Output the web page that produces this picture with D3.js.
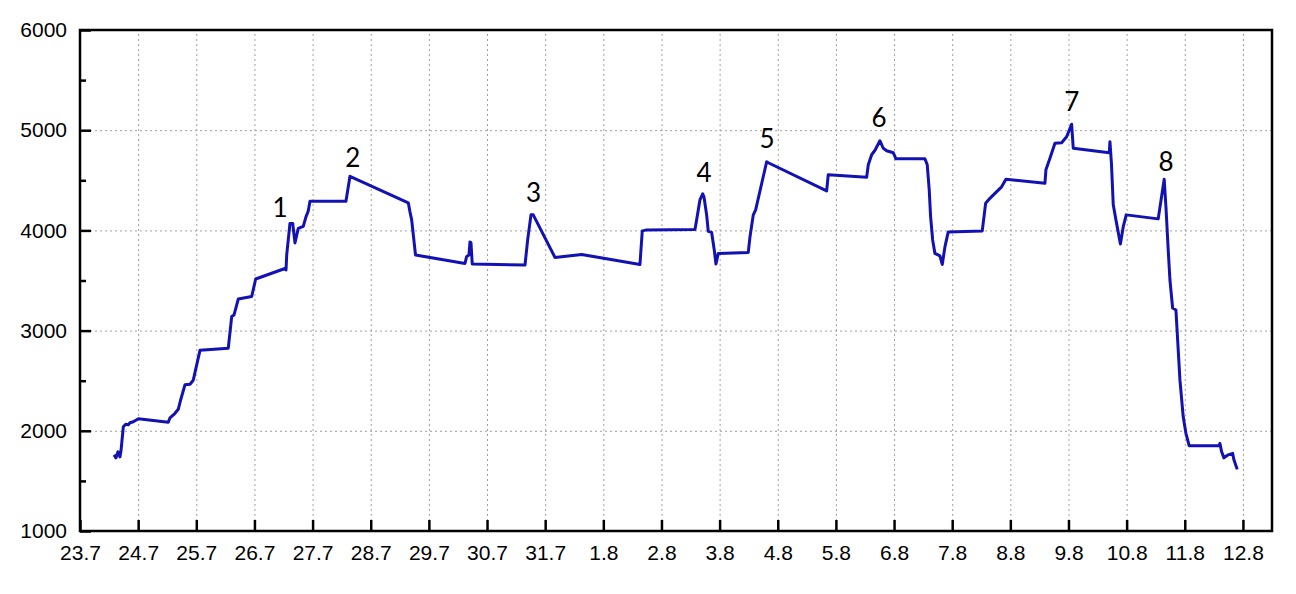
<!DOCTYPE html>
<html>
<head>
<meta charset="utf-8">
<script src="https://cdn.jsdelivr.net/npm/d3@7"></script>
<style>
  html, body { margin: 0; padding: 0; background: #fff; }
  svg { display: block; }
</style>
</head>
<body>
<svg id="chart" width="1296" height="594"></svg>
<script>
// Day offsets from 23.7 (00:00)
const days = [
  0.585, 0.619, 0.653, 0.688, 0.705, 0.745, 0.786, 0.831, 0.860, 0.917,
  0.975, 1.003, 1.518, 1.548, 1.634, 1.690, 1.732, 1.806, 1.892, 1.948,
  2.064, 2.550, 2.609, 2.648, 2.722, 2.953, 3.021, 3.525, 3.543, 3.555,
  3.611, 3.658, 3.697, 3.754, 3.840, 3.886, 3.926, 3.955, 4.574, 4.643,
  5.646, 5.675, 5.704, 5.770, 6.621, 6.650, 6.690, 6.707, 6.724, 6.746,
  7.653, 7.699, 7.756, 7.795, 8.169, 8.628, 9.630, 9.670, 9.746, 10.576,
  10.605, 10.662, 10.709, 10.731, 10.777, 10.805, 10.863, 10.908, 10.937, 10.977,
  11.493, 11.522, 11.579, 11.620, 11.809, 11.837, 12.841, 12.868, 13.529, 13.557,
  13.615, 13.672, 13.757, 13.814, 13.873, 13.986, 14.033, 14.531, 14.571, 14.605,
  14.629, 14.664, 14.703, 14.789, 14.829, 14.875, 14.932, 15.517, 15.575, 15.649,
  15.735, 15.850, 15.924, 16.595, 16.612, 16.681, 16.767, 16.882, 16.968, 17.054,
  17.082, 17.701, 17.713, 17.739, 17.770, 17.816, 17.893, 17.941, 17.993, 18.543,
  18.646, 18.676, 18.715, 18.745, 18.791, 18.848, 18.917, 18.973, 19.020, 19.076,
  19.592, 19.604, 19.634, 19.673, 19.747, 19.823, 19.845, 19.902
];
const values = [
  1760, 1730, 1790, 1740, 1800, 2040, 2065, 2060, 2080, 2090,
  2110, 2120, 2085, 2130, 2175, 2215, 2310, 2460, 2465, 2505,
  2805, 2825, 3140, 3155, 3315, 3340, 3515, 3620, 3605, 3755,
  4070, 4070, 3875, 4020, 4040, 4135, 4195, 4290, 4290, 4540,
  4275, 4185, 4105, 3755, 3670, 3740, 3755, 3885, 3875, 3665,
  3655, 3905, 4155, 4155, 3730, 3760, 3660, 3995, 4005, 4010,
  4105, 4305, 4365, 4335, 4155, 3990, 3980, 3805, 3665, 3770,
  3780, 3935, 4155, 4205, 4685, 4675, 4395, 4555, 4530, 4655,
  4755, 4800, 4895, 4820, 4795, 4775, 4715, 4715, 4655, 4405,
  4135, 3905, 3770, 3745, 3660, 3835, 3985, 3995, 4270, 4320,
  4370, 4435, 4510, 4470, 4605, 4720, 4870, 4875, 4935, 5060,
  4820, 4775, 4885, 4665, 4255, 4105, 3865, 4035, 4155, 4115,
  4510, 4235, 3805, 3505, 3225, 3205, 2505, 2140, 1975, 1850,
  1850, 1875, 1790, 1730, 1760, 1775, 1710, 1615
];

const xTickLabels = ["23.7","24.7","25.7","26.7","27.7","28.7","29.7","30.7","31.7",
  "1.8","2.8","3.8","4.8","5.8","6.8","7.8","8.8","9.8","10.8","11.8","12.8"];
const yTicks = [1000, 2000, 3000, 4000, 5000, 6000];
const yMinorTicks = [1500, 2500, 3500, 4500, 5500];

// Peak annotations (label text placed at data coords)
const annoLabels = ["1","2","3","4","5","6","7","8"];
const annoDays   = [3.439, 4.690, 7.802, 10.731, 11.814, 13.740, 17.059, 18.676];
const annoValues = [4134, 4633, 4286, 4488, 4827, 5032, 5192, 4593];

const svg = d3.select("#chart");
const L = 80, T = 30, R = 1272, B = 531;
const W = R - L, H = B - T;

const x = d3.scaleLinear().domain([0, 20.5]).range([L, R]);
const y = d3.scaleLinear().domain([1000, 6000]).range([B, T]);

const tickIdx = d3.range(xTickLabels.length);

// grid
const grid = svg.append("g");
grid.append("g")
  .attr("transform", `translate(0,${B})`)
  .call(d3.axisBottom(x).tickValues(tickIdx.slice(1)).tickSize(-H).tickFormat(""))
  .call(g => g.select(".domain").remove())
  .call(g => g.selectAll("line").attr("stroke", "#a0a0a0").attr("stroke-width", 1).attr("stroke-dasharray", "2,3"));
grid.append("g")
  .attr("transform", `translate(${L},0)`)
  .call(d3.axisLeft(y).tickValues([2000, 3000, 4000, 5000]).tickSize(-W).tickFormat(""))
  .call(g => g.select(".domain").remove())
  .call(g => g.selectAll("line").attr("stroke", "#a0a0a0").attr("stroke-width", 1).attr("stroke-dasharray", "2,3"));

// line
const pts = days.map((d, i) => [d, values[i]]);
svg.append("path")
  .datum(pts)
  .attr("fill", "none")
  .attr("stroke", "#1212b4")
  .attr("stroke-width", 3)
  .attr("stroke-linejoin", "round")
  .attr("d", d3.line().x(d => x(d[0])).y(d => y(d[1])));

// frame
svg.append("rect")
  .attr("x", L).attr("y", T).attr("width", W).attr("height", H)
  .attr("fill", "none").attr("stroke", "#000").attr("stroke-width", 2.5);

// axes
const fontAxis = "'Liberation Sans', Arial, sans-serif";
svg.append("g")
  .attr("transform", `translate(0,${B})`)
  .call(d3.axisBottom(x).tickValues(tickIdx).tickSize(-11).tickPadding(14).tickFormat(i => xTickLabels[i]))
  .call(g => g.select(".domain").remove())
  .call(g => g.selectAll("line").attr("stroke", "#000").attr("stroke-width", 2.5))
  .call(g => g.selectAll("text").attr("fill", "#000").style("font-family", fontAxis).style("font-size", "21px"));

svg.append("g")
  .attr("transform", `translate(${L},0)`)
  .call(d3.axisLeft(y).tickValues(yTicks).tickSize(-11).tickPadding(13).tickFormat(d3.format("d")))
  .call(g => g.select(".domain").remove())
  .call(g => g.selectAll("line").attr("stroke", "#000").attr("stroke-width", 2.5))
  .call(g => g.selectAll("text").attr("fill", "#000").style("font-family", fontAxis).style("font-size", "21px"));

svg.append("g")
  .attr("transform", `translate(${L},0)`)
  .call(d3.axisLeft(y).tickValues(yMinorTicks).tickSize(-6).tickFormat(""))
  .call(g => g.select(".domain").remove())
  .call(g => g.selectAll("line").attr("stroke", "#000").attr("stroke-width", 2.5));

// annotations
svg.append("g").selectAll("text")
  .data(annoLabels)
  .join("text")
  .attr("x", (d, i) => x(annoDays[i]))
  .attr("y", (d, i) => y(annoValues[i]))
  .attr("text-anchor", "middle")
  .style("font-family", "Lato, 'Open Sans', sans-serif")
  .style("font-size", "26px")
  .attr("fill", "#000")
  .text(d => d);
</script>
</body>
</html>
